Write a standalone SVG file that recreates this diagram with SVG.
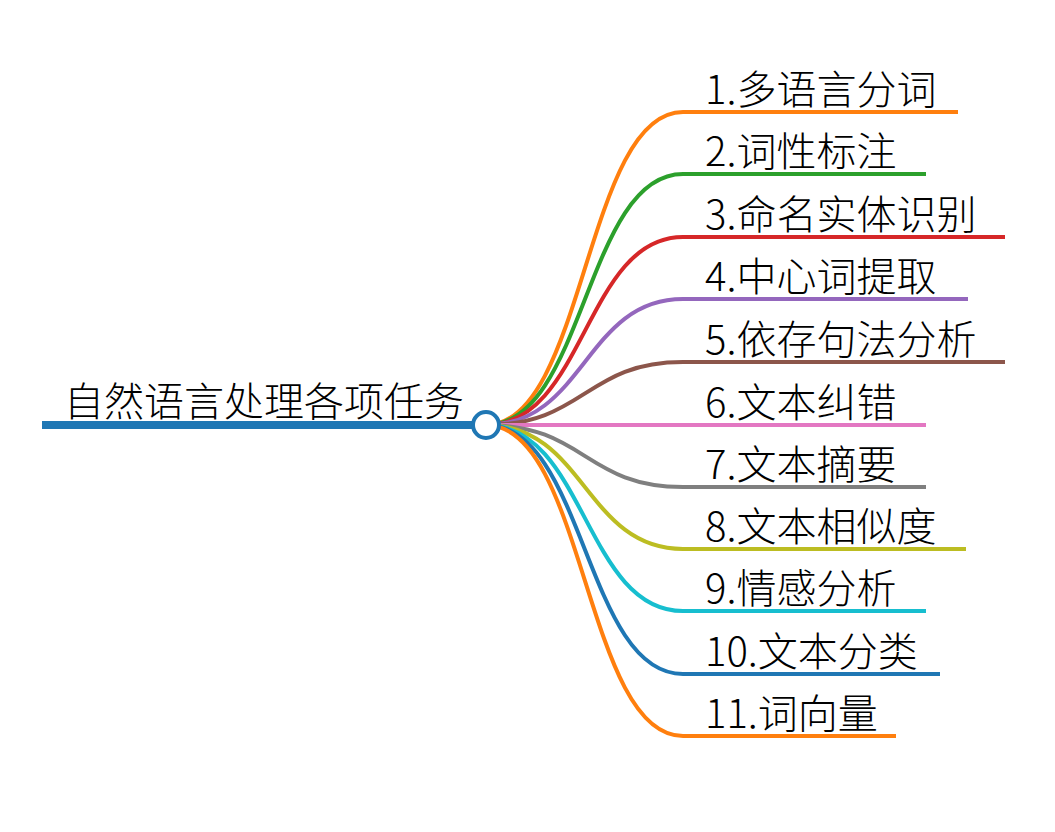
<svg xmlns="http://www.w3.org/2000/svg" width="1055" height="832" viewBox="0 0 1055 832">
<style>
.t{font-family:"Noto Sans CJK SC","Noto Sans",sans-serif;font-size:40px;fill:#000;font-weight:300}
.l{fill:none;stroke-width:4;stroke-linecap:butt}
</style>
<rect width="1055" height="832" fill="#fff"/>
<g id="connectors">
<path class="l" stroke="#ff7f0e" d="M486 425C585 425 585 112 683 112H958"/>
<path class="l" stroke="#2ca02c" d="M486 425C585 425 585 174 683 174H926"/>
<path class="l" stroke="#d62728" d="M486 425C585 425 585 237 683 237H1005"/>
<path class="l" stroke="#9467bd" d="M486 425C585 425 585 299 683 299H968"/>
<path class="l" stroke="#8c564b" d="M486 425C585 425 585 362 683 362H1005"/>
<path class="l" stroke="#e377c2" d="M486 425H926"/>
<path class="l" stroke="#7f7f7f" d="M486 425C585 425 585 487 683 487H926"/>
<path class="l" stroke="#bcbd22" d="M486 425C585 425 585 549 683 549H966"/>
<path class="l" stroke="#17becf" d="M486 425C585 425 585 611 683 611H926"/>
<path class="l" stroke="#1f77b4" d="M486 425C585 425 585 674 683 674H940"/>
<path class="l" stroke="#ff7f0e" d="M486 425C585 425 585 736 683 736H896"/>
</g>
<g id="root">
<line x1="42" y1="425" x2="486" y2="425" stroke="#1f77b4" stroke-width="8"/>
<text class="t" x="64" y="416">自然语言处理各项任务</text>
<circle cx="486" cy="425" r="13" fill="#fff" stroke="#1f77b4" stroke-width="4"/>
</g>
<g id="n1"><text class="t" x="705" y="104">1.多语言分词</text></g>
<g id="n2"><text class="t" x="705" y="166">2.词性标注</text></g>
<g id="n3"><text class="t" x="705" y="229">3.命名实体识别</text></g>
<g id="n4"><text class="t" x="705" y="291">4.中心词提取</text></g>
<g id="n5"><text class="t" x="705" y="354">5.依存句法分析</text></g>
<g id="n6"><text class="t" x="705" y="417">6.文本纠错</text></g>
<g id="n7"><text class="t" x="705" y="479">7.文本摘要</text></g>
<g id="n8"><text class="t" x="705" y="541">8.文本相似度</text></g>
<g id="n9"><text class="t" x="705" y="603">9.情感分析</text></g>
<g id="n10"><text class="t" x="705" y="666">10.文本分类</text></g>
<g id="n11"><text class="t" x="705" y="728">11.词向量</text></g>
</svg>
